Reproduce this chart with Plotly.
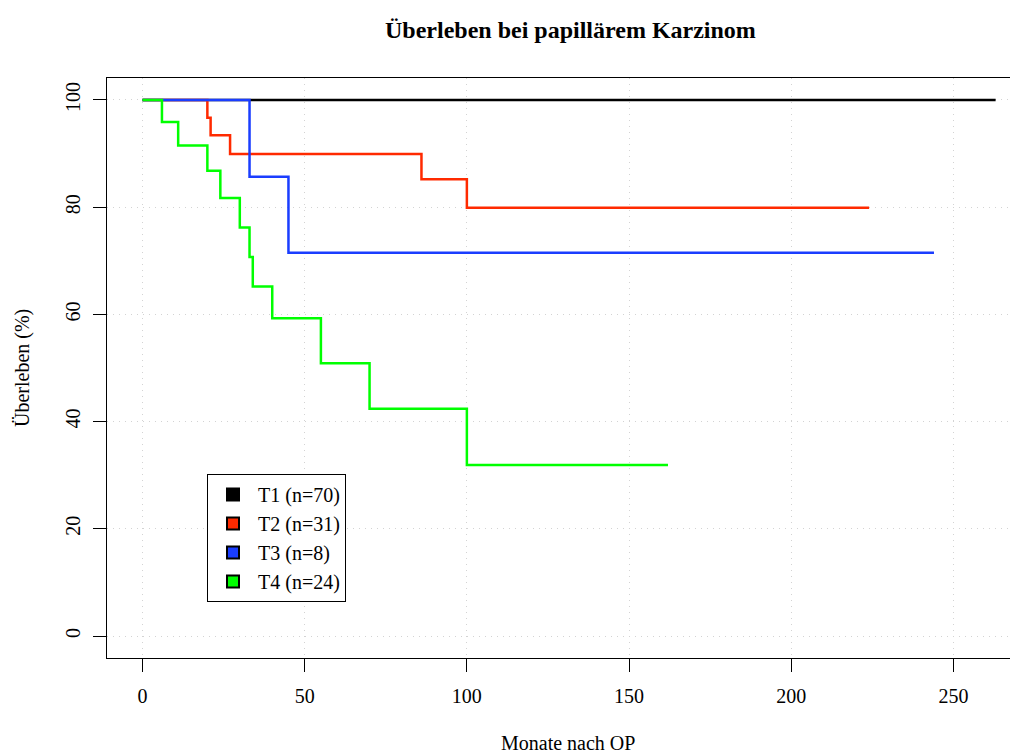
import plotly.graph_objects as go

# ---- data ----
series_names = ["T1 (n=70)", "T2 (n=31)", "T3 (n=8)", "T4 (n=24)"]
series_colors = ["#000000", "#ff2a00", "#1a3dff", "#00ff00"]

t1_months = [0, 263]
t1_surv = [100, 100]

t2_months = [0, 20, 21, 27, 86, 100, 224]
t2_surv = [100, 96.7, 93.4, 89.9, 85.2, 79.9, 79.9]

t3_months = [0, 33, 45, 244]
t3_surv = [100, 85.7, 71.5, 71.5]

t4_months = [0, 6, 11, 20, 24, 30, 33, 34, 40, 55, 70, 100, 162]
t4_surv = [100, 95.9, 91.5, 86.8, 81.7, 76.2, 70.7, 65.2, 59.3, 50.9, 42.4, 31.9, 31.9]

x_ticks = [0, 50, 100, 150, 200, 250]
y_ticks = [0, 20, 40, 60, 80, 100]

FONT = "Liberation Serif"

fig = go.Figure()

all_x = [t1_months, t2_months, t3_months, t4_months]
all_y = [t1_surv, t2_surv, t3_surv, t4_surv]

for xs, ys, name, col in zip(all_x, all_y, series_names, series_colors):
    fig.add_trace(go.Scatter(
        x=xs, y=ys, mode="lines", line=dict(color=col, width=2.5, shape="hv"),
        showlegend=False, hoverinfo="skip", name=name))

for name, col in zip(series_names, series_colors):
    fig.add_trace(go.Scatter(
        x=[None], y=[None], mode="markers", name=name,
        marker=dict(symbol="square", size=15, color=col, line=dict(color="black", width=1))))

# page body has an 8px margin; figure is sized so it fits the 1018x754 window
OFF = 8
W, H = 1018 - OFF, 754 - OFF
L, T, R, B = 107 - OFF, 78 - OFF, 0, 754 - 658
pw = W - L - R
ph = H - T - B

def px(xpix):  # reference screen pixel -> paper x
    return (xpix - OFF - L) / pw

def py(ypix):  # reference screen pixel -> paper y
    return (H - B - (ypix - OFF)) / ph

fig.update_layout(
    width=W, height=H,
    margin=dict(l=L, r=R, t=T, b=B),
    paper_bgcolor="white", plot_bgcolor="white",
    font=dict(family=FONT, color="black", size=20),
    legend=dict(
        x=px(207), y=py(474), xanchor="left", yanchor="top",
        bordercolor="black", borderwidth=1, bgcolor="white",
        font=dict(family=FONT, size=20, color="black"),
        itemsizing="constant", itemwidth=40, entrywidth=92, entrywidthmode="pixels",
    ),
    annotations=[
        dict(text="<b>Überleben bei papillärem Karzinom</b>", x=px(570), y=py(30),
             xref="paper", yref="paper", showarrow=False, xanchor="center", yanchor="middle",
             font=dict(family=FONT, size=24, color="black")),
        dict(text="Monate nach OP", x=px(568), y=py(743),
             xref="paper", yref="paper", showarrow=False, xanchor="center", yanchor="middle",
             font=dict(family=FONT, size=20, color="black")),
        dict(text="Überleben (%)", x=px(22), y=py(368), textangle=-90,
             xref="paper", yref="paper", showarrow=False, xanchor="center", yanchor="middle",
             font=dict(family=FONT, size=20, color="black")),
    ],
)

fig.update_xaxes(
    range=[-10.94, 269.9], tickvals=x_ticks, ticktext=[str(v) for v in x_ticks],
    showgrid=True, gridcolor="#d3d3d3", griddash="1px,5px", gridwidth=1,
    zeroline=False, showline=True, linecolor="black", linewidth=1, mirror=True,
    ticks="outside", ticklen=13, tickcolor="black", tickwidth=1,
    ticklabelstandoff=7, tickfont=dict(family=FONT, size=20),
)
fig.update_yaxes(
    range=[-4.1, 104.1], tickvals=y_ticks, ticktext=[str(v) for v in y_ticks],
    showgrid=True, gridcolor="#d3d3d3", griddash="1px,5px", gridwidth=1,
    zeroline=False, showline=True, linecolor="black", linewidth=1, mirror=False,
    ticks="outside", ticklen=13, tickcolor="black", tickwidth=1, tickangle=-90,
    ticklabelstandoff=5, tickfont=dict(family=FONT, size=20),
)

fig.write_html("out.html")
